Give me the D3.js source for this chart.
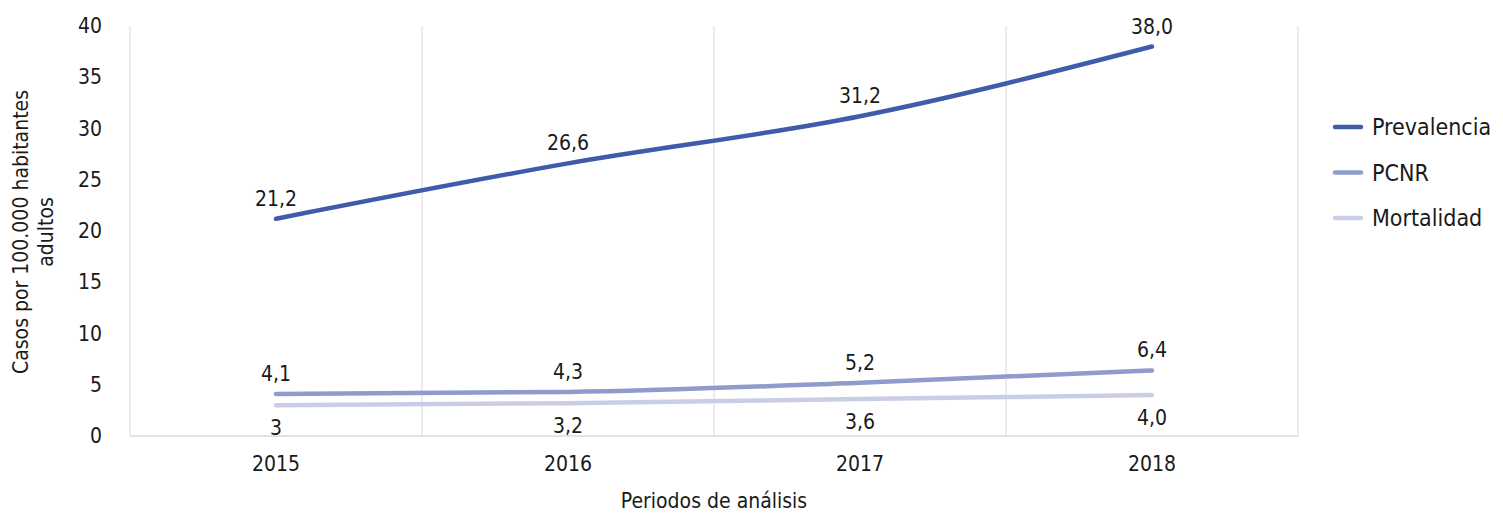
<!DOCTYPE html>
<html>
<head>
<meta charset="utf-8">
<script src="https://cdn.jsdelivr.net/npm/d3@7"></script>
<style>
  body { margin: 0; background: #fff; }
  text { font-family: "DejaVu Sans Condensed", "DejaVu Sans", sans-serif; font-stretch: condensed; fill: #1a1a1a; }
</style>
</head>
<body>
<svg width="1503" height="514"></svg>
<script>
const width = 1503;
const height = 514;
const margin = {top: 26, right: 205, bottom: 78, left: 130};

const years = ['2015', '2016', '2017', '2018'];
const prevalencia = [21.2, 26.6, 31.2, 38.0];
const pcnr = [4.1, 4.3, 5.2, 6.4];
const mortalidad = [3.0, 3.2, 3.6, 4.0];
const mortalidadLabels = ['3', '3,2', '3,6', '4,0'];
const yTicks = [0, 5, 10, 15, 20, 25, 30, 35, 40];

const series = [
  {name: 'Prevalencia', values: prevalencia, color: '#3f5ba9', pos: 'above'},
  {name: 'PCNR', values: pcnr, color: '#8e9bcb', pos: 'above'},
  {name: 'Mortalidad', values: mortalidad, color: '#c9cee6', pos: 'below', labels: mortalidadLabels}
];

const fmt = v => d3.format('.1f')(v).replace('.', ',');

const x = d3.scaleBand().domain(years).range([margin.left, width - margin.right]);
const y = d3.scaleLinear().domain([0, 40]).range([height - margin.bottom, margin.top]);

const svg = d3.select('svg');

// vertical gridlines at band edges
svg.append('g')
    .attr('stroke', '#d9d9d9')
    .attr('stroke-width', 1)
    .selectAll('line')
    .data(years.map(d => x(d)).concat([x(years[years.length - 1]) + x.bandwidth()]))
    .join('line')
    .attr('x1', d => d).attr('x2', d => d)
    .attr('y1', y(40)).attr('y2', y(0));

// x baseline
svg.append('line')
    .attr('x1', x.range()[0]).attr('x2', x.range()[1])
    .attr('y1', y(0)).attr('y2', y(0))
    .attr('stroke', '#d9d9d9').attr('stroke-width', 1.5);

const xAxis = g => g.attr('transform', `translate(0,${y(0)})`)
    .call(d3.axisBottom(x).tickSize(0).tickPadding(20))
    .call(g => g.select('.domain').remove())
    .call(g => g.selectAll('text').attr('font-size', 21).attr('fill', '#1a1a1a'));

const yAxis = g => g.attr('transform', `translate(${margin.left},0)`)
    .call(d3.axisLeft(y).tickValues(yTicks).tickSize(0).tickPadding(28))
    .call(g => g.select('.domain').remove())
    .call(g => g.selectAll('text').attr('font-size', 21).attr('fill', '#1a1a1a').attr('text-anchor', 'end'));

svg.append('g').call(xAxis);
svg.append('g').call(yAxis);

// axis titles
svg.append('text')
    .attr('x', x.range()[0] + (x.range()[1] - x.range()[0]) / 2)
    .attr('y', 508)
    .attr('text-anchor', 'middle')
    .attr('font-size', 21)
    .text('Periodos de análisis');

const yTitle = svg.append('text')
    .attr('transform', `translate(28,${y(20) + 1}) rotate(-90)`)
    .attr('text-anchor', 'middle')
    .attr('font-size', 21);
yTitle.append('tspan').attr('x', 0).attr('dy', 0).text('Casos por 100.000 habitantes');
yTitle.append('tspan').attr('x', 0).attr('dy', 25).text('adultos');

const cx = d => x(d) + x.bandwidth() / 2;
const line = d3.line().x((d, i) => cx(years[i])).y(d => y(d)).curve(d3.curveMonotoneX);

// draw lines back to front
[...series].reverse().forEach(s => {
  svg.append('path')
      .datum(s.values)
      .attr('fill', 'none')
      .attr('stroke', s.color)
      .attr('stroke-width', 4.5)
      .attr('stroke-linecap', 'round')
      .attr('d', line);
});

// data labels
series.forEach(s => {
  svg.append('g')
      .attr('font-size', 21)
      .attr('text-anchor', 'middle')
      .selectAll('text')
      .data(s.values)
      .join('text')
      .attr('x', (d, i) => cx(years[i]))
      .attr('y', d => s.pos === 'above' ? y(d) - 13 : y(d) + 30)
      .text((d, i) => s.labels ? s.labels[i] : fmt(d));
});

// legend
const legend = svg.append('g')
    .attr('transform', 'translate(1335,127)')
    .selectAll('g')
    .data(series)
    .join('g')
    .attr('transform', (d, i) => `translate(0,${i * 45.5})`);

legend.append('line')
    .attr('x1', 0).attr('x2', 26)
    .attr('stroke', d => d.color)
    .attr('stroke-width', 4.5)
    .attr('stroke-linecap', 'round');

legend.append('text')
    .attr('x', 37)
    .attr('dy', '0.36em')
    .attr('font-size', 23)
    .text(d => d.name);
</script>
</body>
</html>
